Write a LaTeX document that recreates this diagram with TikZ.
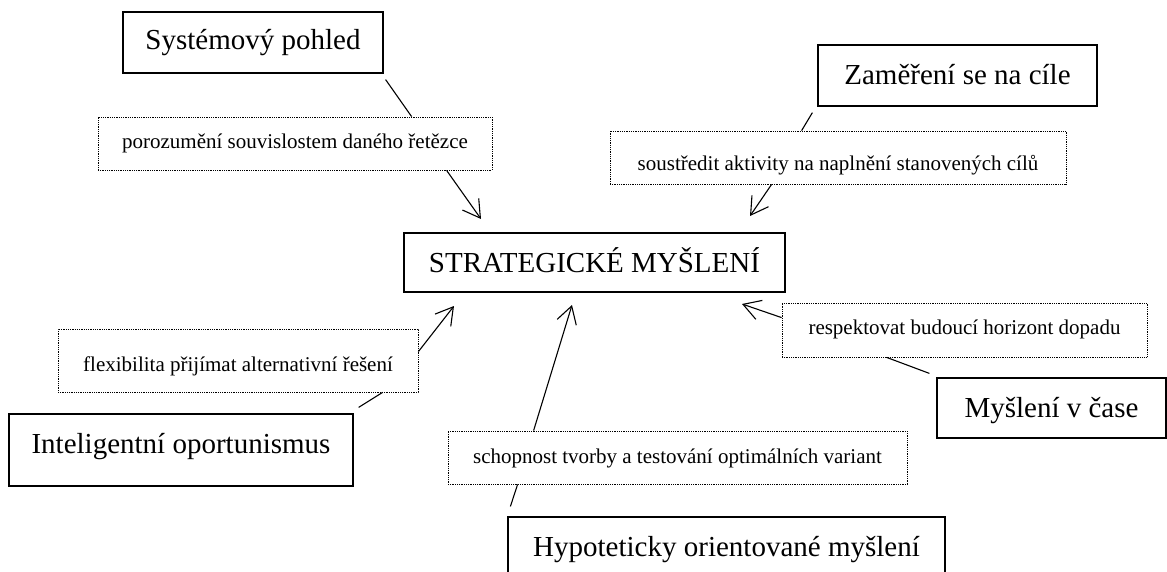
\documentclass[tikz,border=0pt]{standalone}
\usepackage{fontspec}
\setmainfont{Liberation Serif}
\usetikzlibrary{arrows.meta,calc}
\begin{document}
\begin{tikzpicture}[x=1pt,y=-1pt,
  bigbox/.style={draw, line width=1.2pt, rectangle, inner sep=0pt,
    font=\fontsize{29}{34}\selectfont, text depth=8pt},
  mainbox/.style={bigbox, line width=2pt},
  notebox/.style={draw, densely dotted, line width=0.8pt, rectangle, inner sep=0pt,
    font=\fontsize{21}{25}\selectfont, text depth=6pt},
  link/.style={line width=1.1pt},
  arrowlink/.style={line width=1.1pt, -{Straight Barb[length=17pt,width=20pt]}}
]
\useasboundingbox (0,0) rectangle (1167,572);
\clip (0,0) rectangle (1167,572);

% main boxes
\node[mainbox, minimum width=381pt, minimum height=59pt, text height=27pt] (main) at (594.5,262.5) {STRATEGICKÉ MYŠLENÍ};
\node[bigbox, minimum width=260pt, minimum height=61pt, text height=23pt] (sys) at (253,42.5) {Systémový pohled};
\node[bigbox, minimum width=279pt, minimum height=61pt, text height=27pt] (cil) at (957.5,75.5) {Zaměření se na cíle};
\node[bigbox, minimum width=344pt, minimum height=72pt, text height=14pt] (opo) at (181,450) {Inteligentní oportunismus};
\node[bigbox, minimum width=229pt, minimum height=60pt, text height=26pt] (cas) at (1051.5,408) {Myšlení v čase};
\node[bigbox, minimum width=437pt, minimum height=72pt, text height=14pt] (hyp) at (726.5,553) {Hypoteticky orientované myšlení};

% dotted notes
\node[notebox, minimum width=394pt, minimum height=53pt, text height=17pt] (d1) at (295,143.5) {porozumění souvislostem daného řetězce};
\node[notebox, minimum width=456pt, minimum height=53pt, text height=33pt] (d2) at (838,157.5) {soustředit aktivity na naplnění stanovených cílů};
\node[notebox, minimum width=360pt, minimum height=63pt, text height=27pt] (d3) at (238,360.5) {flexibilita přijímat alternativní řešení};
\node[notebox, minimum width=459pt, minimum height=53pt, text height=17pt] (d4) at (677.5,457.5) {schopnost tvorby a testování optimálních variant};
\node[notebox, minimum width=365pt, minimum height=54pt, text height=14pt] (d5) at (964.5,330) {respektovat budoucí horizont dopadu};

% connectors
\draw[link] ([shift={(2,6)}]sys.south east) -- ([shift={(314,0)}]d1.north west);
\draw[arrowlink] ([shift={(349,0)}]d1.south west) -- ([shift={(78,-13)}]main.north west);

\draw[link] ([shift={(-5,6)}]cil.south west) -- ([shift={(192,0)}]d2.north west);
\draw[arrowlink] ([shift={(162,0)}]d2.south west) -- ([shift={(-36,-16)}]main.north east);

\draw[link] ([shift={(5,-6)}]opo.north east) -- ([shift={(325,0)}]d3.south west);
\draw[arrowlink] ([shift={(0,23)}]d3.north east) -- ([shift={(51,13)}]main.south west);

\draw[link] ([shift={(3,-10)}]hyp.north west) -- ([shift={(70,0)}]d4.south west);
\draw[arrowlink] ([shift={(86,0)}]d4.north west) -- ([shift={(169,12)}]main.south west);

\draw[link] ([shift={(-7,-4)}]cas.north west) -- ([shift={(105,0)}]d5.south west);
\draw[arrowlink] ([shift={(0,15)}]d5.north west) -- ([shift={(-44,11)}]main.south east);
\end{tikzpicture}
\end{document}
